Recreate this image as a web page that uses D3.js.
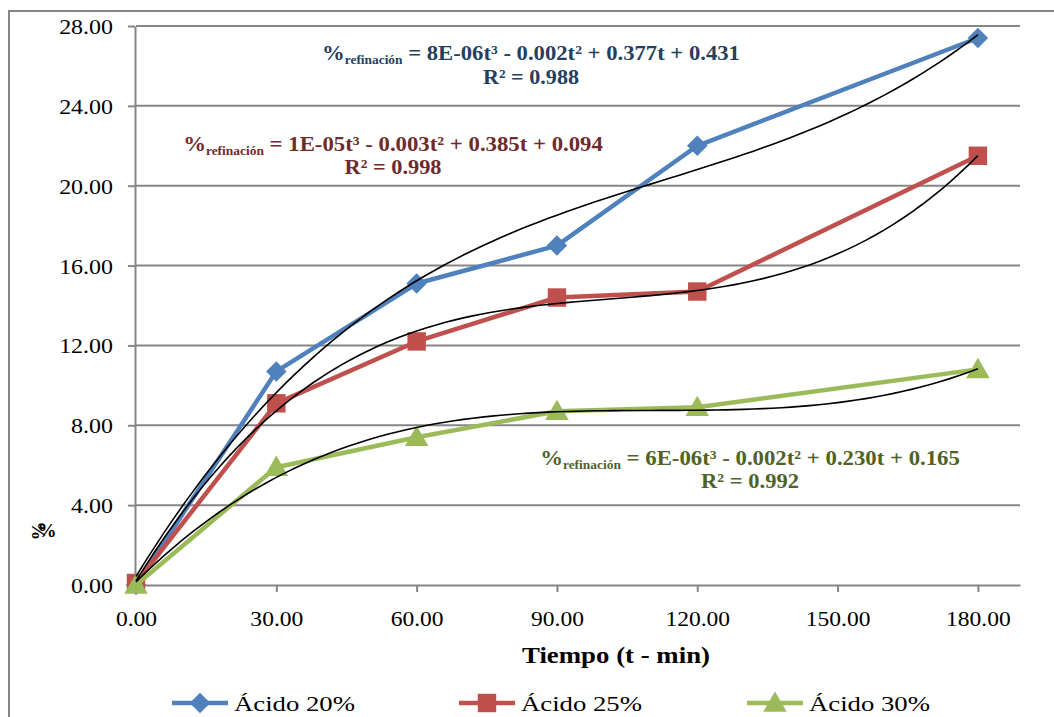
<!DOCTYPE html>
<html>
<head>
<meta charset="utf-8">
<script src="https://cdn.jsdelivr.net/npm/d3@7"></script>
<style>
  body { margin: 0; background: #fff; }
  svg { display: block; }
</style>
</head>
<body>
<svg id="chart" width="1054" height="717"></svg>
<script>
// data
const tiempos = [0, 30, 60, 90, 120, 180];
const acido20 = [0, 10.7, 15.1, 17.0, 22.0, 27.4];
const acido25 = [0.1, 9.1, 12.2, 14.4, 14.7, 21.5];
const acido30 = [0, 5.9, 7.4, 8.7, 8.9, 10.8];
const seriesNames = ["Ácido 20%", "Ácido 25%", "Ácido 30%"];
const seriesColors = ["#4f81bd", "#c0504d", "#9bbb59"];
const seriesSymbols = ["diamond", "square", "triangle"];
const yTicks = [0, 4, 8, 12, 16, 20, 24, 28];
const xTicks = [0, 30, 60, 90, 120, 150, 180];
const eqTexts = [
    " = 8E-06t³ - 0.002t² + 0.377t + 0.431",
    " = 1E-05t³ - 0.003t² + 0.385t + 0.094",
    " = 6E-06t³ - 0.002t² + 0.230t + 0.165"
];
const r2Texts = ["R² = 0.988", "R² = 0.998", "R² = 0.992"];
const eqColors = ["#243f60", "#6f2b2b", "#4f6228"];

let svg = d3.select("#chart");
let gray = "#868686";
let font = "'Liberation Serif', 'Times New Roman', serif";

let xScale = d3.scaleLinear().domain([0, 189]).range([136, 1020]);
let yScale = d3.scaleLinear().domain([0, 28]).range([585, 26]);

// stretch text horizontally, the reference text is wide
function stretch(sel, k) {
    sel.each(function() {
        this.setAttribute("lengthAdjust", "spacingAndGlyphs");
        this.setAttribute("textLength", this.getComputedTextLength() * k);
    });
}

// outer chart frame (cropped at right / bottom)
svg.append("path")
    .attr("d", "M9,730 L9,11 L1060,11")
    .attr("fill", "none")
    .attr("stroke", gray)
    .attr("stroke-width", 2);

// gridlines
svg.selectAll(".grid")
    .data(yTicks.filter(d => d > 0))
    .enter()
    .append("line")
    .attr("x1", xScale(0))
    .attr("x2", xScale(189))
    .attr("y1", d => yScale(d))
    .attr("y2", d => yScale(d))
    .attr("stroke", gray)
    .attr("stroke-width", 2);

// y axis
let yAxis = svg.append("g")
    .attr("transform", "translate(" + (xScale(0) - 1) + ",0)")
    .call(d3.axisLeft(yScale).tickValues(yTicks).tickSize(7).tickSizeOuter(0).tickPadding(15)
        .tickFormat(d3.format(".2f")));
yAxis.select(".domain").attr("stroke", gray).attr("stroke-width", 2);
yAxis.selectAll(".tick line").attr("stroke", gray).attr("stroke-width", 2);
yAxis.selectAll("text")
    .style("font-family", font)
    .style("font-size", "21px")
    .attr("fill", "#000")
    .attr("dy", "0.36em");

// x axis
let xAxis = svg.append("g")
    .attr("transform", "translate(0," + yScale(0) + ")")
    .call(d3.axisBottom(xScale).tickValues(xTicks).tickSize(7).tickSizeOuter(0).tickPadding(19)
        .tickFormat(d3.format(".2f")));
xAxis.select(".domain").attr("stroke", gray).attr("stroke-width", 2);
xAxis.selectAll(".tick line").attr("stroke", gray).attr("stroke-width", 2);
xAxis.selectAll("text")
    .style("font-family", font)
    .style("font-size", "21px")
    .attr("fill", "#000");

stretch(yAxis.selectAll("text"), 1.14);
stretch(xAxis.selectAll("text"), 1.12);

// axis titles
let xTitle = svg.append("text")
    .attr("x", 616)
    .attr("y", 663)
    .text("Tiempo (t - min)")
    .style("font-family", font)
    .style("font-weight", "bold")
    .style("font-size", "23px")
    .style("text-anchor", "middle");

let yTitle = svg.append("g").attr("transform", "translate(45,531)");
yTitle.append("text")
    .attr("transform", "rotate(-90)")
    .attr("x", 0).attr("y", 0)
    .text("%")
    .style("font-family", font)
    .style("font-weight", "bold")
    .style("font-size", "19px")
    .style("text-anchor", "middle");
yTitle.append("text")
    .attr("x", 2).attr("y", 6)
    .text("%")
    .style("font-family", font)
    .style("font-weight", "bold")
    .style("font-size", "19px")
    .style("text-anchor", "middle");

// markers
function symbolPath(kind) {
    if (kind == "diamond") return d3.symbol().type(d3.symbolSquare).size(210)();
    if (kind == "square") return d3.symbol().type(d3.symbolSquare).size(340)();
    return d3.symbol().type(d3.symbolTriangle).size(240)();
}

let allSeries = [acido20, acido25, acido30];
let line = d3.line()
    .x(d => xScale(d.t))
    .y(d => yScale(d.v));

allSeries.forEach(function(values, i) {
    let pts = tiempos.map((t, j) => ({ t: t, v: values[j] }));
    svg.append("path")
        .datum(pts)
        .attr("d", line)
        .attr("fill", "none")
        .attr("stroke", seriesColors[i])
        .attr("stroke-width", 4.5)
        .attr("stroke-linejoin", "round");
    svg.selectAll(".mk" + i)
        .data(pts)
        .enter()
        .append("path")
        .attr("d", symbolPath(seriesSymbols[i]))
        .attr("transform", function(d) {
            let rot = seriesSymbols[i] == "diamond" ? " rotate(45)" : "";
            let dy = seriesSymbols[i] == "triangle" ? 2 : 0;
            return "translate(" + xScale(d.t) + "," + (yScale(d.v) + dy) + ")" + rot;
        })
        .attr("fill", seriesColors[i]);
});

// cubic least squares trendlines
function polyfit3(xs, ys) {
    let n = 4;
    let A = [];
    for (let r = 0; r < n; r++) {
        A.push([]);
        for (let c = 0; c < n; c++) A[r].push(d3.sum(xs, x => Math.pow(x, r + c)));
        A[r].push(d3.sum(xs, (x, k) => ys[k] * Math.pow(x, r)));
    }
    for (let c = 0; c < n; c++) {
        let p = c;
        for (let r = c + 1; r < n; r++) if (Math.abs(A[r][c]) > Math.abs(A[p][c])) p = r;
        [A[c], A[p]] = [A[p], A[c]];
        for (let r = 0; r < n; r++) {
            if (r == c) continue;
            let f = A[r][c] / A[c][c];
            for (let k = c; k <= n; k++) A[r][k] -= f * A[c][k];
        }
    }
    return A.map((row, r) => row[n] / row[r]);
}

allSeries.forEach(function(values) {
    let xs = tiempos.map(t => t / 180);
    let coef = polyfit3(xs, values);
    let curve = d3.range(0, 181, 2).map(t => {
        let u = t / 180;
        return { t: t, v: coef[0] + coef[1] * u + coef[2] * u * u + coef[3] * u * u * u };
    });
    svg.append("path")
        .datum(curve)
        .attr("d", line)
        .attr("fill", "none")
        .attr("stroke", "#000")
        .attr("stroke-width", 1.6);
});

// trendline equations
let eqPos = [
    { x: 531, y: 60, w: 418, r2y: 84, r2w: 96 },
    { x: 393, y: 151, w: 420, r2y: 174, r2w: 97 },
    { x: 750, y: 465, w: 420, r2y: 488, r2w: 98 }
];
eqTexts.forEach(function(eq, i) {
    let p = eqPos[i];
    let g = svg.append("g").attr("transform", "translate(" + p.x + "," + p.y + ")");
    let t = g.append("text")
        .style("font-family", font)
        .style("font-weight", "bold")
        .style("font-size", "22px")
        .style("text-anchor", "middle")
        .attr("fill", eqColors[i]);
    t.append("tspan").text("%");
    t.append("tspan").attr("dy", 4).style("font-size", "13px").text("refinación");
    t.append("tspan").attr("dy", -4).text(eq);
    let k = p.w / t.node().getBBox().width;
    g.attr("transform", "translate(" + p.x + "," + p.y + ") scale(" + k + ",1)");

    let r = svg.append("text")
        .attr("x", p.x)
        .attr("y", p.r2y)
        .text(r2Texts[i])
        .style("font-family", font)
        .style("font-weight", "bold")
        .style("font-size", "22px")
        .style("text-anchor", "middle")
        .attr("fill", eqColors[i]);
    r.attr("lengthAdjust", "spacingAndGlyphs").attr("textLength", p.r2w);
});

xTitle.attr("lengthAdjust", "spacingAndGlyphs").attr("textLength", 188);

// legend
let legendX = [172, 459, 747];
seriesNames.forEach(function(name, i) {
    let lg = svg.append("g").attr("transform", "translate(" + legendX[i] + ",703)");
    lg.append("line")
        .attr("x1", 0).attr("x2", 56)
        .attr("y1", 0).attr("y2", 0)
        .attr("stroke", seriesColors[i])
        .attr("stroke-width", 4.5);
    lg.append("path")
        .attr("d", symbolPath(seriesSymbols[i]))
        .attr("transform", "translate(28," + (seriesSymbols[i] == "triangle" ? 2 : 0) + ")" +
            (seriesSymbols[i] == "diamond" ? " rotate(45)" : ""))
        .attr("fill", seriesColors[i]);
    lg.append("text")
        .attr("x", 62)
        .attr("y", 8)
        .text(name)
        .style("font-family", font)
        .style("font-size", "21px")
        .attr("lengthAdjust", "spacingAndGlyphs")
        .attr("textLength", 121);
});
</script>
</body>
</html>
